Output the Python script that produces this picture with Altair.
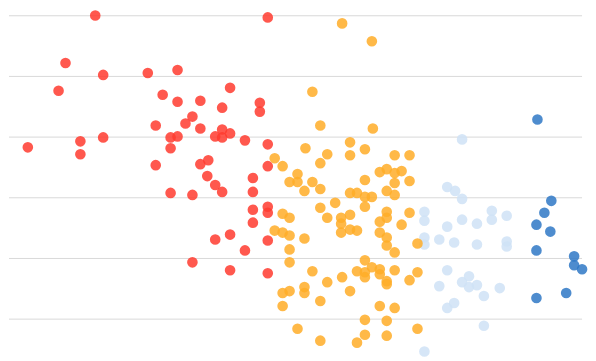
import altair as alt
import pandas as pd

# Readings: x = horizontal position value, y = vertical value (arbitrary units)
red_x = [95, 269, 65, 103, 148, 178, 58, 163, 178, 201, 231, 223, 261, 261, 193, 186, 156, 201, 223,
         171, 178, 216, 223, 231, 246, 269, 103, 80, 80, 27, 171, 156, 201, 209, 208, 216, 223, 171,
         193, 254, 254, 269, 254, 269, 269, 254, 216, 231, 246, 269, 193, 231, 269]
red_py = [13, 15, 61, 73, 71, 68, 89, 93, 100, 99, 86, 106, 101, 110, 115, 122, 124, 127, 128,
          136, 135, 135, 136, 132, 139, 143, 136, 140, 153, 146, 147, 164, 163, 159, 175, 184, 191, 192,
          194, 177, 191, 165, 209, 206, 212, 222, 239, 234, 250, 240, 262, 270, 273]

orange_x = [344, 374, 314, 322, 375, 352, 307, 329, 367, 352, 397, 412, 276, 284, 322, 299, 291, 299,
            314, 306, 322, 382, 389, 397, 404, 367, 397, 412, 352, 359, 367, 374, 389, 397, 337, 322,
            367, 329, 284, 291, 343, 352, 343, 389, 389, 382, 412, 404, 276, 284, 291, 343, 352, 359,
            306, 382, 389, 389, 397, 420, 291, 291, 367, 374, 359, 367, 367, 382, 382, 397, 389, 389,
            314, 344, 329, 352, 420, 412, 284, 291, 306, 306, 284, 322, 382, 397, 367, 389, 299, 367,
            389, 420, 322, 359]
orange_py = [21, 39, 90, 124, 127, 141, 147, 153, 148, 154, 154, 154, 157, 165, 162, 173, 181, 181,
             181, 190, 188, 171, 168, 172, 170, 179, 182, 180, 192, 192, 196, 196, 190, 194, 202, 207,
             206, 217, 213, 217, 217, 214, 223, 211, 217, 221, 212, 224, 230, 232, 235, 232, 229, 230,
             238, 232, 237, 245, 252, 243, 249, 262, 260, 267, 271, 272, 277, 269, 274, 270, 281, 284,
             271, 277, 282, 291, 272, 280, 293, 291, 287, 293, 306, 301, 306, 308, 320, 321, 329, 335,
             336, 329, 341, 343]

light_x = [465, 450, 458, 465, 427, 427, 450, 465, 480, 495, 495, 510, 427, 427, 442, 457, 480, 510,
           510, 450, 442, 465, 472, 472, 480, 487, 503, 450, 457, 487, 427]
light_py = [138, 186, 190, 198, 211, 220, 226, 219, 223, 210, 219, 215, 237, 244, 239, 242, 244, 241,
            246, 270, 286, 282, 276, 287, 285, 296, 288, 308, 303, 326, 352]

blue_x = [541, 555, 548, 540, 554, 540, 578, 578, 586, 540, 570]
blue_py = [118, 200, 212, 224, 231, 250, 256, 265, 269, 298, 293]

groups = ["Red", "Light blue", "Orange", "Blue"]
colors = ["#ff3b2f", "#cfe2f6", "#ffad28", "#2f78c6"]
grid_values = [347.7, 286.5, 225.3, 164.1, 102.9, 41.7]

rows = []
for name, xs, ps in [("Red", red_x, red_py), ("Light blue", light_x, light_py),
                     ("Orange", orange_x, orange_py), ("Blue", blue_x, blue_py)]:
    for x, p in zip(xs, ps):
        rows.append({"group": name, "x": x, "y": 361 - p})
df = pd.DataFrame(rows)
grid_df = pd.DataFrame({"y": grid_values})

xscale = alt.Scale(domain=[8, 588], nice=False, zero=False)
yscale = alt.Scale(domain=[15, 353], nice=False, zero=False)

grid = alt.Chart(grid_df).mark_rule(color="#d9d9d9", strokeWidth=1).encode(
    y=alt.Y("y:Q", scale=yscale, axis=None),
    x=alt.value(0),
    x2=alt.value(578),
)

points = alt.Chart(df).mark_circle(size=115, opacity=0.85).encode(
    x=alt.X("x:Q", scale=xscale, axis=None),
    y=alt.Y("y:Q", scale=yscale, axis=None),
    color=alt.Color("group:N", scale=alt.Scale(domain=groups, range=colors), legend=None),
)

chart = alt.layer(grid, points).properties(
    width=580, height=338, padding=0
).configure_view(stroke=None)

chart.save("out.html", embed_options={"renderer": "svg", "actions": False})
